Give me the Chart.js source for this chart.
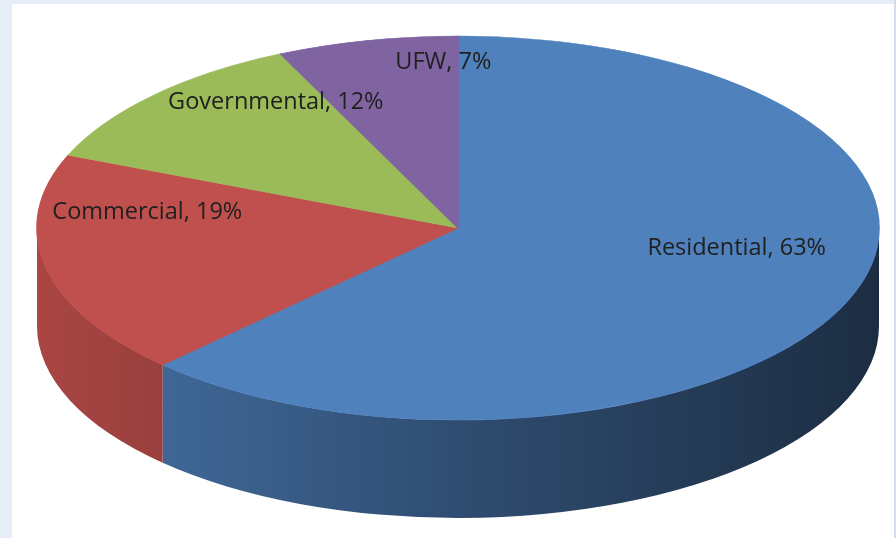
<!DOCTYPE html>
<html>
<head>
<meta charset="utf-8">
<script src="https://cdn.jsdelivr.net/npm/chart.js@4/dist/chart.umd.min.js"></script>
<style>
  html, body { margin: 0; padding: 0; }
  body { width: 896px; height: 538px; background: #e6edf7; position: relative; overflow: hidden; }
  #panel { position: absolute; left: 12px; top: 4px; width: 882px; height: 534px; background: #fff; }
  #edge { position: absolute; left: 894px; top: 0; width: 2px; height: 538px; background: #d3deec; }
  canvas { position: absolute; left: 0; top: 0; }
</style>
</head>
<body>
<div id="panel"></div>
<div id="edge"></div>
<canvas id="pieChart" width="896" height="538"></canvas>
<script>
var categories = ["Residential", "Commercial", "Governmental", "UFW"];
var shares = [63, 19, 12, 7];
var sliceColors = ["#4f81bd", "#c0504d", "#9bbb59", "#8064a2"];

// tilted pie: top face ellipse + depth of the side wall
var pieCenter = { x: 458, y: 228 };
var pieRadiusX = 421, pieRadiusY = 192, pieDepth = 98;
// label nudges from the default spot (70% out along the slice middle)
var labelShift = [[6, -31], [-22, -43], [31, -33], [49, -34]];

function shade(hex, f) {
  var n = parseInt(hex.slice(1), 16);
  var r = Math.round(((n >> 16) & 255) * f);
  var g = Math.round(((n >> 8) & 255) * f);
  var b = Math.round((n & 255) * f);
  return "rgb(" + r + "," + g + "," + b + ")";
}

var pie3d = {
  id: "pie3d",
  beforeDatasetsDraw: function (chart) {
    var ctx = chart.ctx;
    var arcs = chart.getDatasetMeta(0).data;
    var cx = arcs[0].x, cy = arcs[0].y, R = arcs[0].outerRadius;

    //side wall, only the front half (0..PI) is visible
    for (var i = 0; i < arcs.length; i++) {
      var s = arcs[i].startAngle, e = arcs[i].endAngle;
      for (var k = 0; k < 2; k++) {
        var off = k * 2 * Math.PI;
        var a1 = Math.max(s, off), a2 = Math.min(e, off + Math.PI);
        if (a2 <= a1) continue;
        var grad = ctx.createLinearGradient(pieCenter.x - pieRadiusX, 0, pieCenter.x + pieRadiusX, 0);
        grad.addColorStop(0, shade(sliceColors[i], 0.88));
        grad.addColorStop(0.5, shade(sliceColors[i], 0.6));
        grad.addColorStop(1, shade(sliceColors[i], 0.35));
        ctx.beginPath();
        ctx.ellipse(pieCenter.x, pieCenter.y, pieRadiusX, pieRadiusY, 0, a1, a2);
        ctx.ellipse(pieCenter.x, pieCenter.y + pieDepth, pieRadiusX, pieRadiusY, 0, a2, a1, true);
        ctx.closePath();
        ctx.fillStyle = grad;
        ctx.fill();
      }
    }

    //squash the flat pie into the top face
    ctx.save();
    ctx.translate(pieCenter.x, pieCenter.y);
    ctx.scale(pieRadiusX / R, pieRadiusY / R);
    ctx.translate(-cx, -cy);
  },
  afterDatasetsDraw: function (chart) {
    var ctx = chart.ctx;
    ctx.restore();

    var arcs = chart.getDatasetMeta(0).data;
    ctx.save();
    ctx.font = "23.5px 'Open Sans'";
    ctx.fillStyle = "#202020";
    ctx.textAlign = "center";
    ctx.textBaseline = "middle";
    for (var i = 0; i < arcs.length; i++) {
      var mid = (arcs[i].startAngle + arcs[i].endAngle) / 2;
      var x = pieCenter.x + pieRadiusX * 0.7 * Math.cos(mid) + labelShift[i][0];
      var y = pieCenter.y + pieRadiusY * 0.7 * Math.sin(mid) + labelShift[i][1];
      ctx.fillText(categories[i] + ", " + shares[i] + "%", x, y);
    }
    ctx.restore();
  }
};

var pieCanvas = document.getElementById("pieChart").getContext("2d");
new Chart(pieCanvas, {
  type: "pie",
  data: {
    labels: categories,
    datasets: [{
      data: shares,
      backgroundColor: sliceColors,
      borderColor: sliceColors,
      borderWidth: 1
    }]
  },
  options: {
    responsive: false,
    animation: false,
    events: [],
    plugins: {
      legend: { display: false },
      tooltip: { enabled: false }
    }
  },
  plugins: [pie3d]
});
</script>
</body>
</html>
